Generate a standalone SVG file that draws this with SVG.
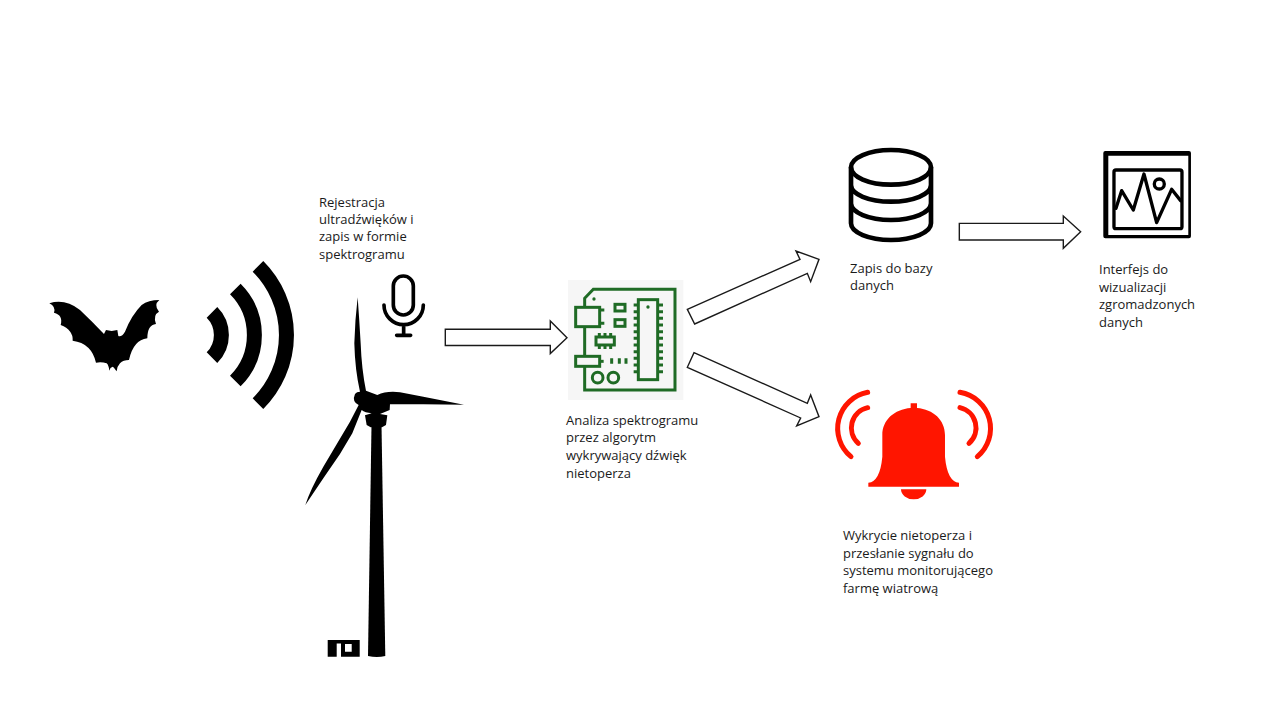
<svg xmlns="http://www.w3.org/2000/svg" width="1280" height="720" viewBox="0 0 1280 720">
<style>
.lbl{font-family:"Open Sans","Noto Sans","Liberation Sans",sans-serif;font-size:13px;fill:#1a1a1a}
.arr{fill:#fff;stroke:#1a1a1a;stroke-width:1.4;stroke-linejoin:miter}
.g{fill:none;stroke:#1f6b25;stroke-width:9}
.k{fill:none;stroke:#000}
.r{fill:none;stroke:#ff1500;stroke-width:15;stroke-linecap:round}
</style>
<rect width="1280" height="720" fill="#fff"/>
<g id="bat"><path transform="translate(30 250) scale(.3333)" fill="#000" d="M58 160Q105 145 150 180Q190 218 222 252L228 240L245 243L262 240L265 258Q275 262 285 245Q305 195 335 165Q355 150 388 150Q370 165 387 185Q368 195 378 222Q352 225 352 265Q310 270 297 330Q280 330 270 340Q262 348 260 364Q252 352 248 350Q240 352 238 362Q236 345 230 340Q215 335 198 338Q185 280 128 272Q130 240 92 225Q100 195 72 188Q78 170 58 160Z"/></g>
<g id="waves" class="k" transform="translate(30 250) scale(.3333)" stroke-width="45">
<path d="M546 187A96 96 0 0 1 546 323"/><path d="M616 117A195 195 0 0 1 616 393"/><path d="M684 49A291 291 0 0 1 684 461"/>
</g>
<g id="turbine" fill="#000">
<path transform="translate(290 270) scale(.3333)" d="M203 82Q208 150 212 220Q215 300 228 362L262 375Q290 362 330 367L400 380L522 404L400 403L300 403L299 420L270 432L292 436L288 465L276 472H242L230 465L225 436L245 430Q225 428 215 420L187 490L150 552L100 625L46 705Q60 660 100 590L180 455L206 405Q185 395 195 372Q200 365 210 365Q195 300 193 220Q195 150 203 82Z"/>
<path d="M371.5 425H381.5L385.3 656Q377 658 368 656Z"/>
<path fill-rule="evenodd" d="M327.7 640H359.7V656.7H341V643.5H336.7V656.7H327.7ZM345 644V651.7H351.7V644Z"/>
</g>
<g id="mic" class="k" transform="translate(290 270) scale(.3333)" stroke-width="11" stroke-linecap="round">
<rect x="310" y="18" width="60" height="117" rx="30"/><path d="M282 105A59 59 0 0 0 400 105M341 164V195M320 196H362"/>
</g>
<g id="board" transform="translate(560 275) scale(.3333)">
<rect x="24" y="15" width="346" height="360" fill="#f6f6f6"/>
<path class="g" d="M74 345V70L100 43H345V345Z"/>
<rect class="g" x="47" y="97" width="72" height="58" style="fill:#f6f6f6"/>
<path class="g" d="M119 105h14M119 145h14"/>
<rect class="g" x="47" y="244" width="72" height="30" style="fill:#f6f6f6"/>
<path class="g" d="M119 259h12"/>
<rect class="g" x="165" y="88" width="30" height="20"/><rect class="g" x="165" y="134" width="30" height="20"/>
<rect class="g" x="108" y="186" width="55" height="24"/>
<path class="g" d="M118 174v12M135 174v12M152 174v12M118 210v12M135 210v12M152 210v12"/>
<path class="g" d="M155 250v16M178 250v16M198 250v16"/>
<circle class="g" cx="113" cy="308" r="16"/><circle class="g" cx="160" cy="308" r="16"/>
<rect class="g" x="235" y="74" width="58" height="240"/>
<path class="g" d="M221 90h14M221 110h14M221 130h14M221 150h14M221 170h14M221 190h14M221 210h14M221 230h14M221 250h14M221 270h14M221 290h14M293 90h16M293 110h16M293 130h16M293 150h16M293 170h16M293 190h16M293 210h16M293 230h16M293 250h16M293 270h16M293 290h16"/>
<circle cx="102" cy="72" r="5" fill="#1f6b25"/><circle cx="264" cy="96" r="5" fill="#1f6b25"/>
</g>
<g id="database" class="k" transform="translate(830 140) scale(.3333)" stroke-width="14">
<ellipse cx="183" cy="82" rx="120" ry="52"/><path d="M63 82V250A120 50 0 0 0 303 250V82M63 135A120 50 0 0 0 303 135M63 190A120 50 0 0 0 303 190"/>
</g>
<g id="interface" transform="translate(830 140) scale(.3333)">
<path fill="#000" fill-rule="evenodd" d="M826 33H1077Q1083 33 1083 39V289Q1083 295 1077 295H826Q820 295 820 289V39Q820 33 826 33ZM835 47V285H1075V47Z"/>
<g class="k" stroke-width="10" stroke-linejoin="round" stroke-linecap="round">
<rect x="852" y="90" width="204" height="176" rx="6"/><path d="M858 205L875 152L910 210L942 102L980 248L1025 148L1052 182"/><circle cx="988" cy="132" r="15"/>
</g>
</g>
<g id="alarm" transform="translate(825 380) scale(.3333)">
<path fill="#ff1500" d="M257 70H276V84C325 88 360 120 360 165V230Q367 305 402 308V320H130V308Q165 305 172 230V165C172 120 208 88 257 84ZM228 328H304A38 30 0 0 1 228 328Z"/>
<path class="r" d="M128 37A110 110 0 0 0 78 230M128 83A62 62 0 0 0 100 190M405 37A110 110 0 0 1 457 230M405 83A62 62 0 0 1 432 190"/>
</g>
<g id="connectors">
<path class="arr" d="M445.3 329.3H550.3V321L567 337.7L550.3 353.5V345.5H445.3Z"/>
<path class="arr" transform="translate(680 240) scale(.3333)" style="stroke-width:4.2" d="M22 208L360 58L348 33L417 58L392 125L382 100L44 252Z"/>
<path class="arr" transform="translate(680 240) scale(.3333)" style="stroke-width:4.2" d="M42 338L382 490L392 465L417 530L350 558L362 534L22 382Z"/>
<path class="arr" transform="translate(830 140) scale(.3333)" style="stroke-width:4.2" d="M388 250H700V228L752 275L700 325V300H388Z"/>
</g>
<g id="labels">
<text class="lbl" x="319" y="207">Rejestracja</text><text class="lbl" x="319" y="224">ultradźwięków i</text><text class="lbl" x="319" y="241">zapis w formie</text><text class="lbl" x="319" y="259">spektrogramu</text>
<text class="lbl" x="566" y="425">Analiza spektrogramu</text><text class="lbl" x="566" y="442">przez algorytm</text><text class="lbl" x="566" y="460">wykrywający dźwięk</text><text class="lbl" x="566" y="478">nietoperza</text>
<text class="lbl" x="850" y="273">Zapis do bazy</text><text class="lbl" x="850" y="290">danych</text>
<text class="lbl" x="1099" y="274">Interfejs do</text><text class="lbl" x="1099" y="292">wizualizacji</text><text class="lbl" x="1099" y="309">zgromadzonych</text><text class="lbl" x="1099" y="327">danych</text>
<text class="lbl" x="843" y="540">Wykrycie nietoperza i</text><text class="lbl" x="843" y="558">przesłanie sygnału do</text><text class="lbl" x="843" y="575">systemu monitorującego</text><text class="lbl" x="843" y="593">farmę wiatrową</text>
</g>
</svg>
